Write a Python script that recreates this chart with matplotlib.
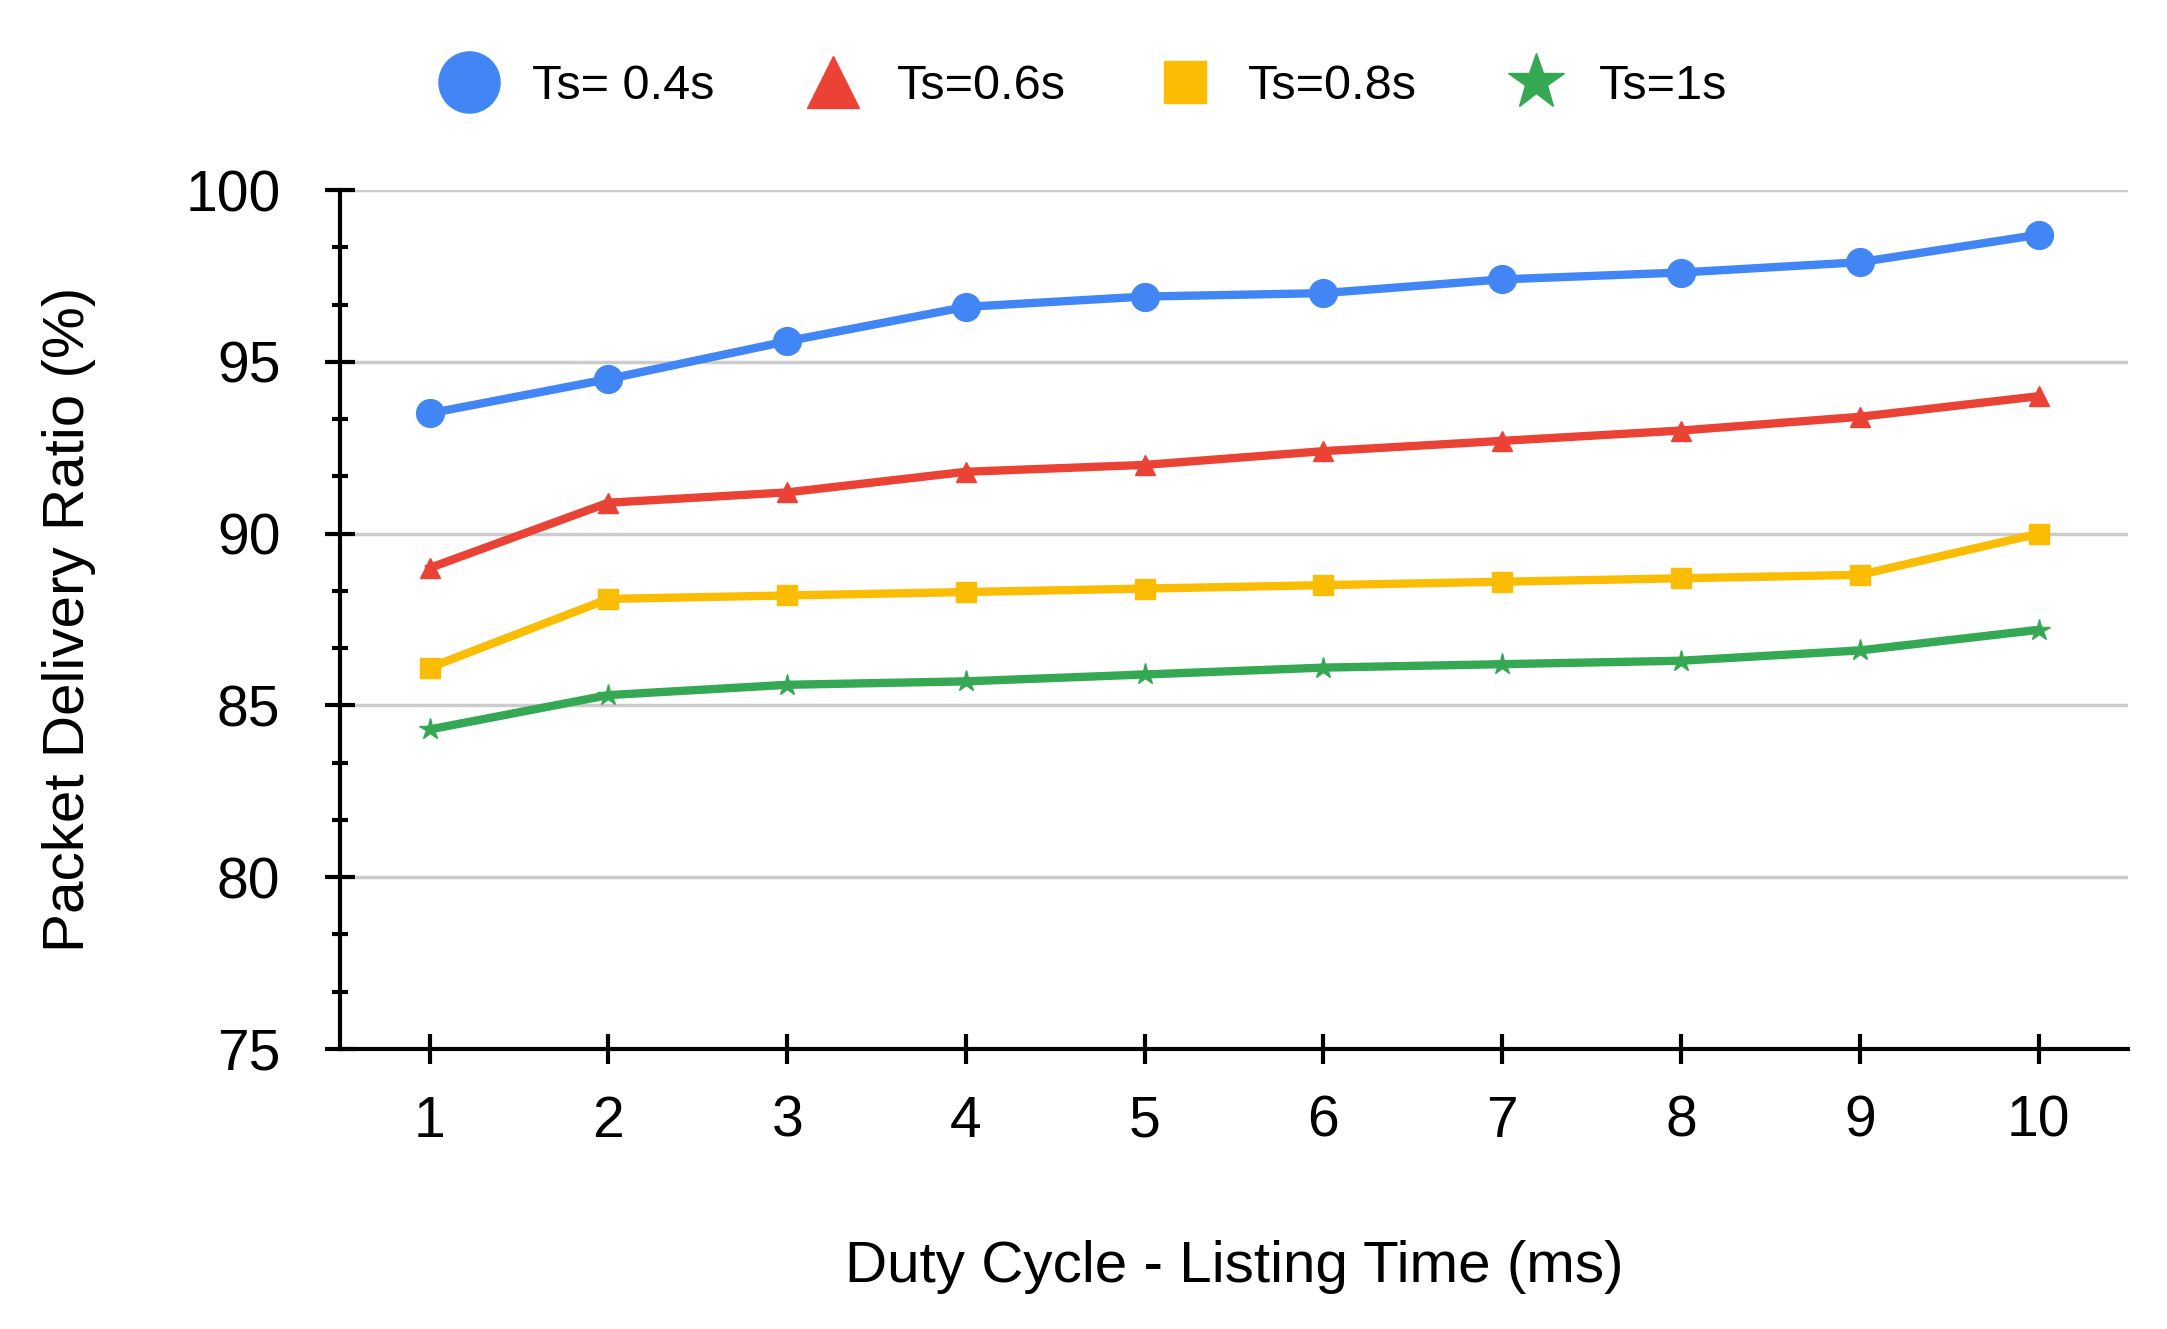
import matplotlib.pyplot as plt
from matplotlib.lines import Line2D
from matplotlib.ticker import MultipleLocator

plt.rcParams['font.family'] = ['Liberation Sans', 'DejaVu Sans']

duty = [1, 2, 3, 4, 5, 6, 7, 8, 9, 10]
ts04 = [93.5, 94.5, 95.6, 96.6, 96.9, 97.0, 97.4, 97.6, 97.9, 98.7]
ts06 = [89.0, 90.9, 91.2, 91.8, 92.0, 92.4, 92.7, 93.0, 93.4, 94.0]
ts08 = [86.1, 88.1, 88.2, 88.3, 88.4, 88.5, 88.6, 88.7, 88.8, 90.0]
ts10 = [84.3, 85.3, 85.6, 85.7, 85.9, 86.1, 86.2, 86.3, 86.6, 87.2]
labels = ['Ts= 0.4s', 'Ts=0.6s', 'Ts=0.8s', 'Ts=1s']

colors = ['#4285F4', '#EA4335', '#FBBC04', '#34A853']
markers = ['o', '^', 's', '*']
msizes = [20, 14, 15, 16]
leg_sizes = [44, 38, 30, 42]

fig = plt.figure(figsize=(21.67, 13.29), dpi=100)
ax = fig.add_axes([0.157, 0.2107, 0.825, 0.6463])

series = [ts04, ts06, ts08, ts10]
for i in range(4):
    ax.plot(duty, series[i], color=colors[i], marker=markers[i],
            markersize=msizes[i], linewidth=6, zorder=3)

ax.set_xlim(0.5, 10.5)
ax.set_ylim(75, 100)
ax.set_xticks(duty)
ax.yaxis.set_major_locator(MultipleLocator(5))
ax.yaxis.set_minor_locator(MultipleLocator(5 / 3))
ax.grid(axis='y', color='#cccccc', linewidth=2.5, zorder=0)
ax.set_axisbelow(True)

for s in ['top', 'right']:
    ax.spines[s].set_visible(False)
for s in ['left', 'bottom']:
    ax.spines[s].set_linewidth(3)
    ax.spines[s].set_color('black')

ax.tick_params(axis='both', which='major', direction='inout', length=22,
               width=3, labelsize=41, colors='black')
ax.tick_params(axis='y', which='minor', direction='inout', length=12, width=3)
ax.tick_params(axis='y', which='major', pad=32)
ax.tick_params(axis='x', which='major', pad=22)

ax.set_xlabel('Duty Cycle - Listing Time (ms)', fontsize=42, labelpad=66)
ax.set_ylabel('Packet Delivery Ratio (%)', fontsize=42, labelpad=64)

handles = []
for i in range(4):
    handles.append(Line2D([], [], color=colors[i], marker=markers[i],
                          markersize=leg_sizes[i], linestyle='None'))
fig.legend(handles, labels, loc='center', bbox_to_anchor=(0.5, 0.935),
           ncol=4, frameon=False, fontsize=35, handletextpad=0.7,
           columnspacing=1.85, handlelength=1.2)

fig.savefig('out.png', dpi=100)
